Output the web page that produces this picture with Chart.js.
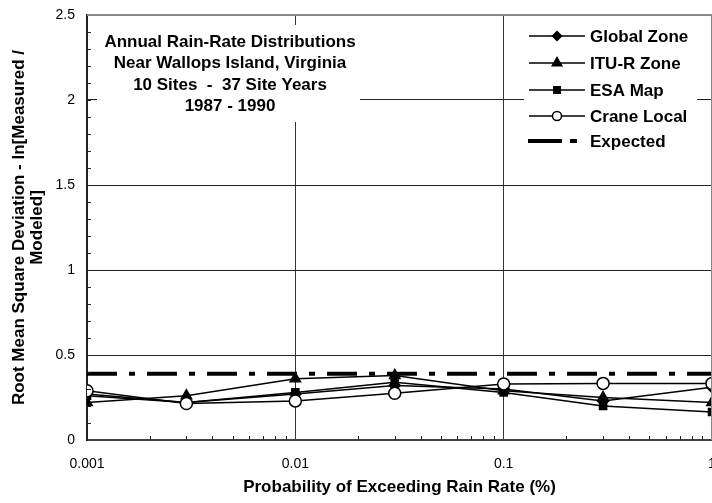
<!DOCTYPE html>
<html>
<head>
<meta charset="utf-8">
<script src="https://cdn.jsdelivr.net/npm/chart.js@4"></script>
<style>
    html, body { margin: 0; padding: 0; background: #fff; overflow: hidden; }
</style>
</head>
<body>
<canvas id="rainChart" width="740" height="503"></canvas>
<script>
// probability of exceeding rain rate (%)
const probabilities = [0.001, 0.003, 0.01, 0.03, 0.1, 0.3, 1];

// rms deviation per model
const globalZone = [0.27, 0.22, 0.27, 0.32, 0.30, 0.23, 0.31];
const ituZone    = [0.22, 0.26, 0.36, 0.38, 0.29, 0.25, 0.22];
const esaMap     = [0.26, 0.22, 0.28, 0.34, 0.28, 0.20, 0.165];
const craneLocal = [0.29, 0.215, 0.23, 0.275, 0.33, 0.333, 0.333];
const expected   = [0.39, 0.39, 0.39, 0.39, 0.39, 0.39, 0.39];

const seriesNames = ['Global Zone', 'ITU-R Zone', 'ESA Map', 'Crane Local', 'Expected'];
const xTickValues = [0.001, 0.01, 0.1, 1];
const xTickLabels = ['0.001', '0.01', '0.1', '1'];
const infoLines = [
    'Annual Rain-Rate Distributions',
    'Near Wallops Island, Virginia',
    '10 Sites  -  37 Site Years',
    '1987 - 1990'
];

const FONT = '"Liberation Sans", Arial, sans-serif';
const dashPattern = [30, 12, 6, 12];

const toPoints = (vals) => probabilities.map((p, i) => ({ x: p, y: vals[i] }));

const radiusFor = { rectRot: 5.5, triangle: 6, rect: 5, circle: 6 };

const markerSet = (style, fill, order) => ({
    borderColor: '#000',
    borderWidth: 1.5,
    pointStyle: style,
    pointRadius: radiusFor[style],
    pointBackgroundColor: fill,
    pointBorderColor: '#000',
    pointBorderWidth: 1.5,
    fill: false,
    tension: 0,
    order: order
});

const datasets = [
    { label: seriesNames[0], data: toPoints(globalZone), ...markerSet('rectRot', '#000', 3) },
    { label: seriesNames[1], data: toPoints(ituZone), ...markerSet('triangle', '#000', 2) },
    { label: seriesNames[2], data: toPoints(esaMap), ...markerSet('rect', '#000', 1) },
    { label: seriesNames[3], data: toPoints(craneLocal), ...markerSet('circle', '#fff', 0) },
    {
        label: seriesNames[4], data: toPoints(expected),
        borderColor: '#000', borderWidth: 4, borderDash: dashPattern,
        pointRadius: 0, fill: false, order: 5
    }
];

// info box, legend, frame and minor ticks
const extras = {
    id: 'extras',
    beforeDatasetsDraw(chart) {
        const ctx = chart.ctx;
        ctx.save();
        ctx.fillStyle = '#fff';
        ctx.fillRect(97, 25, 263, 97);
        ctx.fillRect(524, 17, 173, 143);

        ctx.fillStyle = '#000';
        ctx.font = 'bold 17px ' + FONT;
        ctx.textAlign = 'center';
        ctx.textBaseline = 'middle';
        infoLines.forEach((t, i) => ctx.fillText(t, 230, 42 + i * 21.6));

        // legend
        const rows = [36, 63, 90, 116, 141];
        ctx.textAlign = 'left';
        datasets.forEach((ds, i) => {
            const y = rows[i];
            ctx.strokeStyle = '#000';
            if (i < 4) {
                ctx.lineWidth = 1.5;
                ctx.beginPath();
                ctx.moveTo(529, y);
                ctx.lineTo(585, y);
                ctx.stroke();
                ctx.fillStyle = ds.pointBackgroundColor;
                Chart.helpers.drawPoint(ctx, {
                    pointStyle: ds.pointStyle,
                    radius: ds.pointStyle === 'triangle' ? 5.5 : 4.5,
                    rotation: 0,
                    borderWidth: 1.5
                }, 557, y);
            } else {
                ctx.lineWidth = 4;
                ctx.beginPath();
                ctx.moveTo(528, y);
                ctx.lineTo(562, y);
                ctx.moveTo(570, y);
                ctx.lineTo(577, y);
                ctx.stroke();
            }
            ctx.fillStyle = '#000';
            ctx.fillText(ds.label, 590, y + 1);
        });
        ctx.restore();
    },
    afterDraw(chart) {
        const ctx = chart.ctx;
        const { left, right, top, bottom } = chart.chartArea;
        const xs = chart.scales.x, ys = chart.scales.y;
        ctx.save();
        ctx.strokeStyle = '#888';
        ctx.lineWidth = 2;
        ctx.beginPath();
        ctx.moveTo(left, top);
        ctx.lineTo(right, top);
        ctx.lineTo(right, bottom);
        ctx.stroke();

        ctx.strokeStyle = '#222';
        ctx.lineWidth = 1;
        ctx.beginPath();
        for (let v = 0.1; v < 2.5; v += 0.1) {
            const y = Math.round(ys.getPixelForValue(v)) + 0.5;
            ctx.moveTo(left, y);
            ctx.lineTo(left + 4, y);
        }
        for (let d = 0.001; d < 1; d *= 10) {
            for (let m = 2; m <= 9; m++) {
                const x = Math.round(xs.getPixelForValue(d * m)) + 0.5;
                ctx.moveTo(x, bottom);
                ctx.lineTo(x, bottom - 4);
            }
        }
        ctx.stroke();
        ctx.restore();
    }
};

new Chart(document.getElementById('rainChart').getContext('2d'), {
    type: 'line',
    data: { datasets: datasets },
    options: {
        responsive: false,
        animation: false,
        devicePixelRatio: 1,
        layout: { padding: { top: 15, right: 28, bottom: 0, left: 0 } },
        plugins: { legend: { display: false }, tooltip: { enabled: false } },
        scales: {
            x: {
                type: 'logarithmic',
                position: 'bottom',
                min: 0.001,
                max: 1,
                afterBuildTicks: (s) => { s.ticks = xTickValues.map(v => ({ value: v })); },
                afterFit: (s) => { s.height = 63; s.paddingLeft = 0; s.paddingRight = 0; },
                ticks: {
                    autoSkip: false,
                    maxRotation: 0,
                    padding: 16,
                    color: '#000',
                    font: { family: FONT, size: 14 },
                    callback: (v, i) => xTickLabels[i]
                },
                grid: { color: '#333', lineWidth: 1, drawTicks: false },
                border: { color: '#444', width: 2 },
                title: {
                    display: true,
                    text: 'Probability of Exceeding Rain Rate (%)',
                    color: '#000',
                    font: { family: FONT, size: 17, weight: 'bold' },
                    padding: { top: 5, bottom: 5 }
                }
            },
            y: {
                min: 0,
                max: 2.5,
                afterFit: (s) => { s.width = 87; s.paddingTop = 0; s.paddingBottom = 0; },
                ticks: {
                    stepSize: 0.5,
                    padding: 12,
                    color: '#000',
                    font: { family: FONT, size: 14 },
                    callback: (v) => String(v)
                },
                grid: { color: '#222', lineWidth: 1, drawTicks: false },
                border: { color: '#222', width: 2 },
                title: {
                    display: true,
                    text: ['Root Mean Square Deviation - ln[Measured /', 'Modeled]'],
                    color: '#000',
                    font: { family: FONT, size: 17, weight: 'bold', lineHeight: 1.06 },
                    padding: { top: 10, bottom: 10 }
                }
            }
        }
    },
    plugins: [extras]
});
</script>
</body>
</html>
